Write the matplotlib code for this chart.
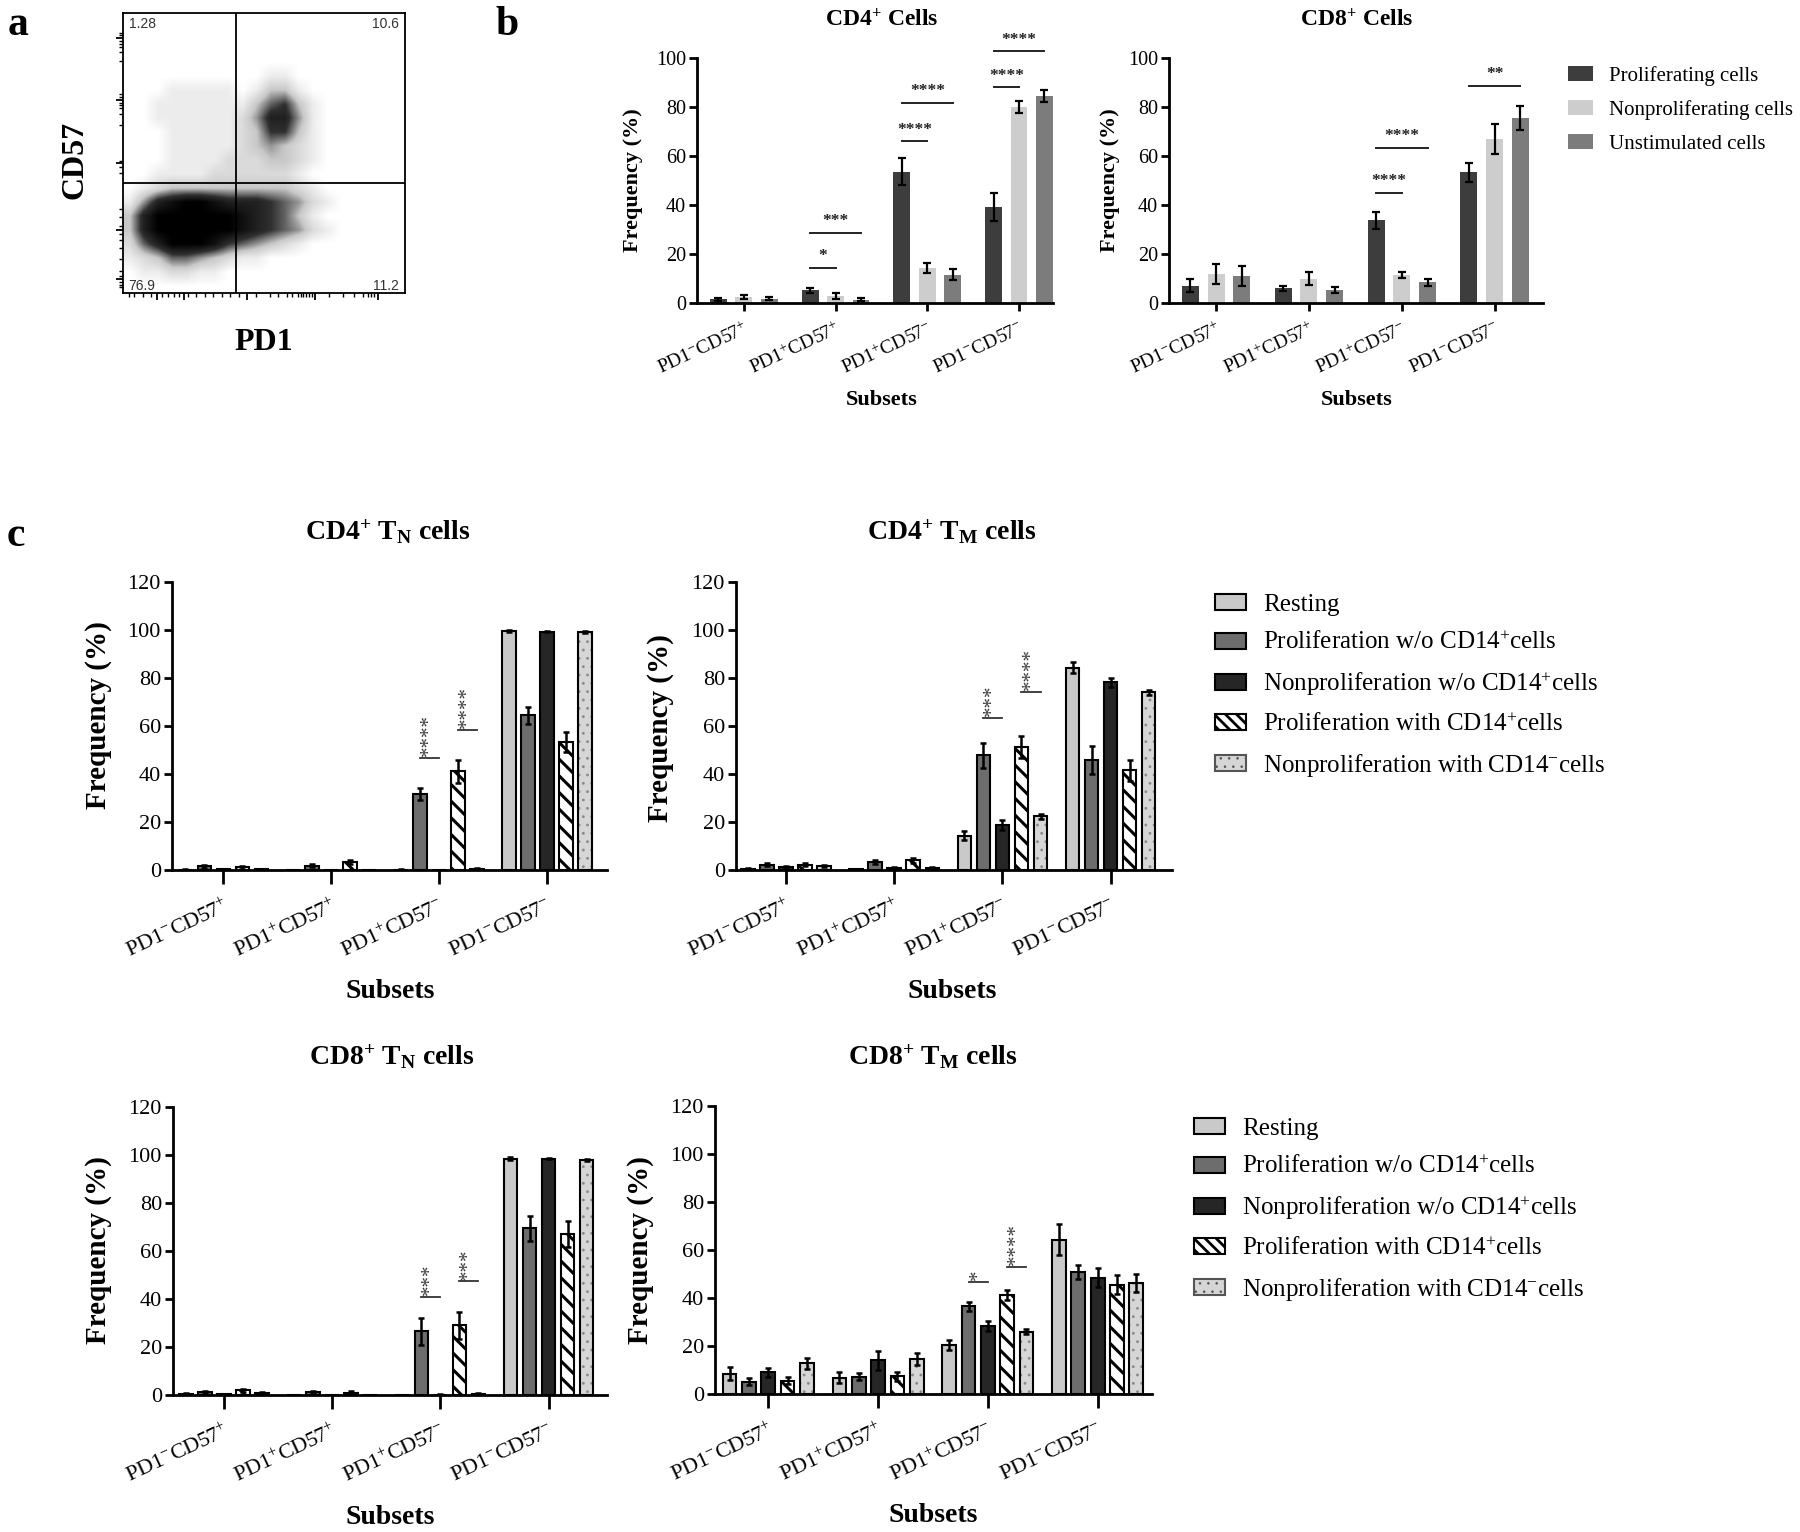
import numpy as np
import matplotlib
matplotlib.use("Agg")
import matplotlib.pyplot as plt
from matplotlib.patches import Patch
from matplotlib.colors import LinearSegmentedColormap

# ---------------- data ----------------
subsets = ["PD1$^{-}$CD57$^{+}$", "PD1$^{+}$CD57$^{+}$", "PD1$^{+}$CD57$^{-}$", "PD1$^{-}$CD57$^{-}$"]

# panel a: flow-cytometry density (rows top->bottom, 20 bins each, 0-9)
flow_density = [
    "00000000000000000000",
    "00000000000000000000",
    "00000000000000000000",
    "00000000000000000000",
    "00000000001100000000",
    "00011111013310000000",
    "00111111135631000000",
    "00111111247741000000",
    "00011111236631000000",
    "00011111234321000000",
    "00011112223321000000",
    "00111122222210000000",
    "01233333333321000000",
    "14789987776542100000",
    "37999999876531000000",
    "37999999876542100000",
    "25799986543210000000",
    "12355432110000000000",
    "01122110000000000000",
    "00000000000000000000",
]
quadrant_pct = ["1.28", "10.6", "76.9", "11.2"]

# panel b
b_series = ["Proliferating cells", "Nonproliferating cells", "Unstimulated cells"]
cd4_mean = [[1.5, 5.2, 53.5, 39.2], [2.5, 2.8, 14.3, 80.0], [1.8, 1.3, 11.5, 84.5]]
cd4_err = [[0.5, 1.0, 5.5, 5.8], [0.8, 1.3, 2.0, 2.4], [0.5, 0.6, 2.2, 2.5]]
cd4_sig = [(1, 0, 1, 14.3, "*"), (1, 0, 2, 28.6, "***"), (2, 0, 1, 66.0, "****"),
           (2, 0, 2, 81.6, "****"), (3, 0, 1, 88.0, "****"), (3, 0, 2, 102.7, "****")]
cd8_mean = [[7.0, 6.0, 33.7, 53.3], [11.8, 10.0, 11.5, 67.0], [11.0, 5.2, 8.5, 75.5]]
cd8_err = [[2.7, 1.0, 3.5, 4.0], [4.0, 2.5, 1.3, 6.0], [4.2, 1.3, 1.5, 5.0]]
cd8_sig = [(2, 0, 1, 44.9, "****"), (2, 0, 2, 63.3, "****"), (3, 0, 2, 88.7, "**")]

# panel c
c_series = ["Resting", "Proliferation w/o CD14$^{+}$cells", "Nonproliferation w/o CD14$^{+}$cells",
            "Proliferation with CD14$^{+}$cells", "Nonproliferation with CD14$^{-}$cells"]
cd4tn_mean = [[0.2, 0.1, 0.2, 99.5], [1.5, 1.8, 31.5, 64.5], [0.3, 0.1, 0.1, 99.3],
              [1.2, 3.2, 41.2, 53.5], [0.3, 0.1, 0.5, 99.0]]
cd4tn_err = [[0.1, 0.1, 0.1, 0.3], [0.6, 0.6, 2.5, 3.5], [0.1, 0.1, 0.1, 0.3],
             [0.6, 0.8, 4.8, 4.2], [0.1, 0.1, 0.2, 0.4]]
cd4tn_sig = [(2, 1, 2, 46.5, "****"), (2, 3, 4, 58.3, "****")]

cd4tm_mean = [[0.5, 0.3, 14.3, 84.3], [2.2, 3.5, 47.8, 46.0], [1.2, 0.8, 18.8, 78.2],
              [2.2, 4.0, 51.2, 41.5], [1.5, 0.8, 22.3, 74.0]]
cd4tm_err = [[0.3, 0.2, 2.0, 2.2], [0.6, 0.8, 5.3, 5.8], [0.5, 0.3, 2.0, 2.0],
             [0.6, 0.9, 4.5, 4.5], [0.4, 0.3, 0.9, 1.0]]
cd4tm_sig = [(2, 1, 2, 63.5, "***"), (2, 3, 4, 74.0, "****")]

cd8tn_mean = [[0.5, 0.1, 0.1, 98.5], [1.3, 1.3, 26.5, 69.5], [0.3, 0.1, 0.2, 98.5],
              [2.0, 1.0, 29.0, 67.0], [0.8, 0.1, 0.5, 98.0]]
cd8tn_err = [[0.3, 0.1, 0.1, 0.6], [0.5, 0.5, 5.5, 5.2], [0.2, 0.1, 0.1, 0.3],
             [0.7, 0.5, 5.5, 5.5], [0.3, 0.1, 0.2, 0.5]]
cd8tn_sig = [(2, 1, 2, 41.0, "***"), (2, 3, 4, 47.3, "***")]

cd8tm_mean = [[8.5, 6.8, 20.3, 64.3], [5.2, 7.2, 36.5, 50.8], [9.0, 14.0, 28.3, 48.5],
              [5.5, 7.3, 41.3, 45.5], [12.8, 14.5, 26.0, 46.2]]
cd8tm_err = [[2.8, 2.3, 2.0, 6.5], [1.5, 1.5, 2.0, 2.8], [2.0, 3.8, 2.0, 4.0],
             [1.5, 2.0, 2.0, 4.0], [2.3, 2.5, 1.0, 3.8]]
cd8tm_sig = [(2, 1, 2, 46.5, "*"), (2, 3, 4, 53.0, "****")]

# ---------------- style ----------------
plt.rcParams["font.family"] = ["Liberation Serif", "DejaVu Serif"]
plt.rcParams["mathtext.fontset"] = "custom"
plt.rcParams["mathtext.rm"] = "Liberation Serif"
plt.rcParams["mathtext.it"] = "Liberation Serif:italic"
plt.rcParams["mathtext.bf"] = "Liberation Serif:bold"

W, H = 1800, 1532
fig = plt.figure(figsize=(W / 100, H / 100), dpi=100)


def fx(px):
    return px / W


def fy(py):
    return 1 - py / H


def rect(l, t, r, b):
    return [fx(l), fy(b), (r - l) / W, (b - t) / H]


# ---------------- panel a ----------------
ax_a = fig.add_axes(rect(123, 13, 405, 293))
dens = np.array([[int(c) for c in row] for row in flow_density], dtype=float)
cmap = LinearSegmentedColormap.from_list("flow", ["white", "#c8c8c8", "#303030", "black"])
ax_a.imshow(dens, extent=[0, 100, 0, 100], origin="upper", cmap=cmap, vmin=0, vmax=9,
            interpolation="bilinear", aspect="auto")
ax_a.axvline(40, color="black", lw=1.3)
ax_a.axhline(39.3, color="black", lw=1.3)
ax_a.set_xlim(0, 100)
ax_a.set_ylim(0, 100)
for s in ax_a.spines.values():
    s.set_linewidth(1.3)
ax_a.set_xticks([12, 21.5, 44, 68, 90.5])
ax_a.set_xticks([2, 4, 7, 10, 14, 16, 18, 20, 23, 26, 29, 32, 35, 38, 41, 47, 52, 55, 58, 60, 62,
                 63, 64, 65, 66, 67, 73, 78, 82, 85, 87, 88, 89], minor=True)
ax_a.set_yticks([5, 22.6, 46.4, 69, 91])
ax_a.set_yticks([2, 3, 4, 6, 8, 12, 16, 19, 21, 24, 27, 30, 43, 45, 47, 60, 64, 66, 67, 68, 70,
                 71, 83, 86, 88, 89, 90, 92, 93], minor=True)
ax_a.tick_params(which="major", length=5, width=1.3, direction="out", labelbottom=False, labelleft=False)
ax_a.tick_params(which="minor", length=3, width=1.0, direction="out")
qa_kw = dict(fontsize=10, color="#333333", family=["Liberation Sans", "DejaVu Sans"])
ax_a.text(2, 96, quadrant_pct[0], ha="left", va="center", **qa_kw)
ax_a.text(98, 96, quadrant_pct[1], ha="right", va="center", **qa_kw)
ax_a.text(2, 2.5, quadrant_pct[2], ha="left", va="center", **qa_kw)
ax_a.text(98, 2.5, quadrant_pct[3], ha="right", va="center", **qa_kw)
fig.text(fx(75), fy(160), "CD57", rotation=90, ha="center", va="center", fontsize=23, fontweight="bold")
fig.text(fx(264), fy(342), "PD1", ha="center", va="center", fontsize=23, fontweight="bold")

# panel letters
fig.text(fx(18), fy(25), "a", ha="center", va="center", fontsize=30, fontweight="bold")
fig.text(fx(507), fy(25), "b", ha="center", va="center", fontsize=30, fontweight="bold")
fig.text(fx(16), fy(536), "c", ha="center", va="center", fontsize=30, fontweight="bold")

GROUP_X = np.arange(len(subsets))


def style_axes(ax, ymax, ystep, xlim, tick_fs, xlab_fs, xpad, tlen):
    ax.set_xlim(*xlim)
    ax.set_ylim(0, ymax)
    for s in ["top", "right"]:
        ax.spines[s].set_visible(False)
    for s in ["left", "bottom"]:
        ax.spines[s].set_linewidth(2.0)
    ax.set_yticks(np.arange(0, ymax + 1, ystep))
    ax.tick_params(axis="y", direction="out", length=6, width=2, labelsize=tick_fs, pad=2)
    ax.tick_params(axis="x", direction="out", length=tlen, width=2, labelsize=xlab_fs, pad=xpad)
    ax.set_xticks(GROUP_X)
    ax.set_xticklabels(subsets, rotation=25, ha="right", va="top", rotation_mode="anchor")


# ---------------- panel b ----------------
B_OFF, B_W = 0.277, 0.183
b_colors = ["#3d3d3d", "#cdcdcd", "#7c7c7c"]


def draw_b(ax, means, errs, sigs):
    for k in range(3):
        xs = GROUP_X + (k - 1) * B_OFF
        ax.bar(xs, means[k], B_W, color=b_colors[k], zorder=2)
        ax.errorbar(xs, means[k], yerr=errs[k], fmt="none", ecolor="black", elinewidth=1.6,
                    capsize=3, capthick=1.6, zorder=3)
    for g, i, j, y, lab in sigs:
        x1 = g + (i - 1) * B_OFF
        x2 = g + (j - 1) * B_OFF
        ax.plot([x1, x2], [y, y], color="#222222", lw=1.4, clip_on=False, zorder=4)
        ax.text((x1 + x2) / 2, y + 1.5, lab, ha="center", va="bottom", fontsize=12.5,
                fontweight="bold", color="#222222", clip_on=False)


ax_b1 = fig.add_axes(rect(697, 58, 1053, 303))
draw_b(ax_b1, cd4_mean, cd4_err, cd4_sig)
style_axes(ax_b1, 100, 20, (-0.51, 3.37), 14.5, 14, 6, 6)
ax_b2 = fig.add_axes(rect(1169, 58, 1543, 303))
draw_b(ax_b2, cd8_mean, cd8_err, cd8_sig)
style_axes(ax_b2, 100, 20, (-0.506, 3.52), 14.5, 14, 6, 6)

fig.text(fx(882), fy(20), "CD4$^{\\mathbf{+}}$ Cells", ha="center", va="center", fontsize=17, fontweight="bold")
fig.text(fx(1357), fy(20), "CD8$^{\\mathbf{+}}$ Cells", ha="center", va="center", fontsize=17, fontweight="bold")
for xl, xc in [(633, 882), (1110, 1357)]:
    fig.text(fx(xl), fy(180), "Frequency (%)", rotation=90, ha="center", va="center", fontsize=16, fontweight="bold")
    fig.text(fx(xc), fy(400), "Subsets", ha="center", va="center", fontsize=16, fontweight="bold")

fig.legend([Patch(facecolor=c, edgecolor="none") for c in b_colors], b_series, loc="upper left",
           bbox_to_anchor=(fx(1568), fy(66)), frameon=False, fontsize=15, handlelength=1.2,
           handleheight=0.72, handletextpad=0.77, labelspacing=0.68, borderpad=0, borderaxespad=0)

# ---------------- panel c ----------------
C_OFF, C_W = 0.176, 0.125
c_faces = ["#c9c9c9", "#6d6d6d", "#262626", "white", "#d6d6d6"]


def set_hlw(container, lw):
    for p in container:
        if hasattr(p, "set_hatch_linewidth"):
            p.set_hatch_linewidth(lw)


def draw_c(ax, means, errs, sigs):
    for k in range(5):
        xs = GROUP_X + (k - 2) * C_OFF
        if k == 3:
            with plt.rc_context({"hatch.linewidth": 2.2}):
                bc = ax.bar(xs, means[k], C_W, facecolor="white", edgecolor="black", hatch="\\\\",
                            linewidth=1.5, zorder=2)
            set_hlw(bc, 2.2)
        elif k == 4:
            with plt.rc_context({"hatch.linewidth": 0.8}):
                bc = ax.bar(xs, means[k], C_W, facecolor=c_faces[k], edgecolor="#8a8a8a", hatch="..",
                            linewidth=0, zorder=2)
            set_hlw(bc, 0.8)
            ax.bar(xs, means[k], C_W, fill=False, edgecolor="black", linewidth=1.5, zorder=2.1)
        else:
            ax.bar(xs, means[k], C_W, facecolor=c_faces[k], edgecolor="black", linewidth=1.5, zorder=2)
        ax.errorbar(xs, means[k], yerr=errs[k], fmt="none", ecolor="black", elinewidth=1.8,
                    capsize=2.5, capthick=1.8, zorder=3)
    for g, i, j, y, lab in sigs:
        x1 = g + (i - 2) * C_OFF
        x2 = g + (j - 2) * C_OFF
        ax.plot([x1, x2], [y, y], color="#333333", lw=1.3, clip_on=False, zorder=4)
        ax.text((x1 + x2) / 2, y + 0.8, lab, rotation=90, ha="center", va="bottom", fontsize=15,
                color="#3a3a3a", clip_on=False)


c_axes = [
    (rect(172, 582, 607, 870), (-0.475, 3.555), cd4tn_mean, cd4tn_err, cd4tn_sig,
     "CD4$^{\\mathbf{+}}$ T$_{\\mathbf{N}}$ cells", 388, 532, 98, 715, 390, 992),
    (rect(736, 582, 1172, 870), (-0.462, 3.567), cd4tm_mean, cd4tm_err, cd4tm_sig,
     "CD4$^{\\mathbf{+}}$ T$_{\\mathbf{M}}$ cells", 952, 532, 660, 728, 952, 992),
    (rect(173, 1107, 607, 1395), (-0.47, 3.54), cd8tn_mean, cd8tn_err, cd8tn_sig,
     "CD8$^{\\mathbf{+}}$ T$_{\\mathbf{N}}$ cells", 392, 1057, 98, 1250, 390, 1517),
    (rect(715, 1106, 1152, 1394), (-0.485, 3.495), cd8tm_mean, cd8tm_err, cd8tm_sig,
     "CD8$^{\\mathbf{+}}$ T$_{\\mathbf{M}}$ cells", 933, 1057, 640, 1250, 933, 1515),
]
for r, xl, m, e, s, title, tx, ty, yx, yy, sx, sy in c_axes:
    ax = fig.add_axes(r)
    draw_c(ax, m, e, s)
    style_axes(ax, 120, 20, xl, 16, 16, 9, 10)
    fig.text(fx(tx), fy(ty), title, ha="center", va="center", fontsize=20, fontweight="bold")
    fig.text(fx(yx), fy(yy), "Frequency (%)", rotation=90, ha="center", va="center", fontsize=21, fontweight="bold")
    fig.text(fx(sx), fy(sy), "Subsets", ha="center", va="center", fontsize=20, fontweight="bold")


def c_handles():
    hs = []
    for k in range(5):
        if k == 3:
            hs.append(Patch(facecolor="white", edgecolor="black", hatch="\\\\\\", linewidth=1.5))
        elif k == 4:
            hs.append(Patch(facecolor=c_faces[k], edgecolor="#555555", hatch="..", linewidth=1.5))
        else:
            hs.append(Patch(facecolor=c_faces[k], edgecolor="black", linewidth=1.5))
    return hs


for lx, ly in [(1215, 594), (1194, 1118)]:
    with plt.rc_context({"hatch.linewidth": 2.0}):
        leg = fig.legend(c_handles(), c_series, loc="upper left", bbox_to_anchor=(fx(lx), fy(ly)),
                         frameon=False, fontsize=18, handlelength=1.24, handleheight=0.6,
                         handletextpad=0.68, labelspacing=0.62, borderpad=0, borderaxespad=0)
    hl = leg.legend_handles[4]
    if hasattr(hl, "set_hatch_linewidth"):
        hl.set_hatch_linewidth(0.6)

fig.savefig("out.png", dpi=100)
